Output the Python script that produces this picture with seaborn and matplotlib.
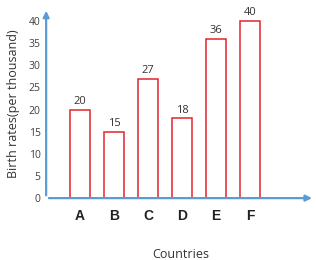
import matplotlib
matplotlib.use("Agg")
import matplotlib.pyplot as plt
import seaborn as sns
import pandas as pd

# data
countries = ["A", "B", "C", "D", "E", "F"]
birth_rates = [20, 15, 27, 18, 36, 40]
y_ticks = [0, 5, 10, 15, 20, 25, 30, 35, 40]

df = pd.DataFrame({"Country": countries, "Rate": birth_rates})

sns.set_style("white")
plt.rcParams["font.family"] = ["Open Sans", "DejaVu Sans"]

fig = plt.figure(figsize=(3.16, 2.6), dpi=100)
ax = fig.add_axes([0.146, 0.238, 0.85, 0.724])

sns.barplot(data=df, x="Country", y="Rate", color="white", edgecolor="#e3242b",
            linewidth=1.1, width=0.6, ax=ax)

# value labels above bars
for i, v in enumerate(birth_rates):
    ax.text(i, v + 0.6, str(v), ha="center", va="bottom", fontsize=8, color="#333333")

ax.set_xlim(-1, 6.9)
ax.set_ylim(0, 42.5)
ax.set_yticks(y_ticks)
ax.tick_params(axis="y", length=0, pad=4, labelsize=7.5, labelcolor="#404040")
ax.tick_params(axis="x", length=0, pad=8)
for lab in ax.get_xticklabels():
    lab.set_fontfamily("Liberation Sans")
    lab.set_fontweight("bold")
    lab.set_fontsize(10)
    lab.set_color("#222222")

for s in ax.spines.values():
    s.set_visible(False)

# blue arrow axes
blue = "#5b9bd5"
ax.annotate("", xy=(1.0, 0), xytext=(0, 0), xycoords="axes fraction",
            arrowprops=dict(arrowstyle="-|>", color=blue, lw=1.6, mutation_scale=9),
            zorder=5, annotation_clip=False)
ax.annotate("", xy=(0, 1.01), xytext=(0, 0), xycoords="axes fraction",
            arrowprops=dict(arrowstyle="-|>", color=blue, lw=1.6, mutation_scale=9),
            zorder=5, annotation_clip=False)

ax.set_xlabel("Countries", fontsize=9, color="#333333", labelpad=18)
ax.set_ylabel("Birth rates(per thousand)", fontsize=9, color="#333333", labelpad=6)

fig.savefig("out.png", dpi=100)
